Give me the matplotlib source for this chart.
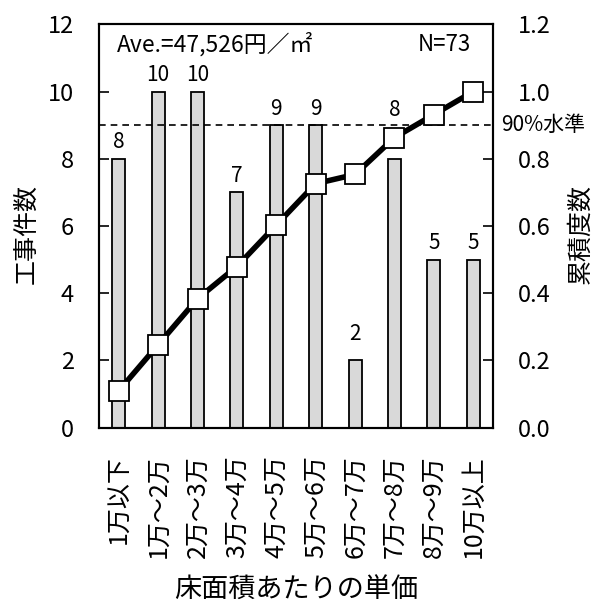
import matplotlib
matplotlib.use("Agg")
import matplotlib.pyplot as plt
import numpy as np

plt.rcParams['font.family'] = ['Noto Sans CJK JP', 'DejaVu Sans']

# data
categories = ['1万以下', '1万～2万', '2万～3万', '3万～4万', '4万～5万',
              '5万～6万', '6万～7万', '7万～8万', '8万～9万', '10万以上']
counts = [8, 10, 10, 7, 9, 9, 2, 8, 5, 5]
total = sum(counts)
cum = np.cumsum(counts) / total
avg_text = 'Ave.=47,526円／㎡'
level90 = 0.9

# label offsets above the bar top (points); some were nudged in the original
label_dy = [4, 4, 4, 4, 4, 4, 11, 27, 4, 4]

fig = plt.figure(figsize=(6.04, 6.10), dpi=100)
ax = fig.add_axes([0.164, 0.299, 0.652, 0.661])
ax2 = ax.twinx()

x = np.arange(len(categories))
ax.bar(x, counts, width=0.33, color='#d9d9d9', edgecolor='black', linewidth=1.3, zorder=2)
for xi, c, dy in zip(x, counts, label_dy):
    ax.annotate(str(c), (xi, c), xytext=(0, dy), textcoords='offset points',
                ha='center', va='bottom', fontsize=15)

ax.set_xlim(-0.5, len(categories) - 0.5)
ax.set_ylim(0, 12)
ax.set_yticks(range(0, 13, 2))
ax.set_xticks(x)
ax.set_xticklabels(categories, rotation=90, fontsize=18)
ax.tick_params(axis='y', direction='in', length=7, labelsize=17, width=1.2, pad=18)
ax.tick_params(axis='x', length=0, pad=20)
ax.set_ylabel('工事件数', fontsize=18)
ax.yaxis.set_label_coords(-0.15, 0.48)
ax.set_xlabel('床面積あたりの単価', fontsize=19.5)
ax.xaxis.set_label_coords(0.5, -0.37)

ax2.plot(x, cum, color='black', lw=4, marker='s', ms=14, mfc='white', mec='black', mew=1.3, zorder=3)
ax2.axhline(level90, color='black', lw=1.2, ls=(0, (4, 3)))
ax2.set_ylim(0, 1.2)
ax2.set_yticks(np.arange(0, 1.21, 0.2))
ax2.set_yticklabels(['%.1f' % v for v in np.arange(0, 1.21, 0.2)])
ax2.tick_params(axis='y', direction='in', length=7, labelsize=17, width=1.2, pad=18)
ax2.set_ylabel('累積度数', fontsize=18, rotation=90)
ax2.yaxis.set_label_coords(1.19, 0.48)
ax2.text(1.02, level90, '90%水準', transform=ax2.get_yaxis_transform(),
         ha='left', va='center', fontsize=15)

for a in (ax, ax2):
    for s in a.spines.values():
        s.set_linewidth(1.5)

ax.text(0.046, 0.95, avg_text, transform=ax.transAxes, ha='left', va='center', fontsize=16.5)
ax.text(0.945, 0.95, 'N=%d' % total, transform=ax.transAxes, ha='right', va='center', fontsize=16)

fig.savefig('out.png', dpi=100)
